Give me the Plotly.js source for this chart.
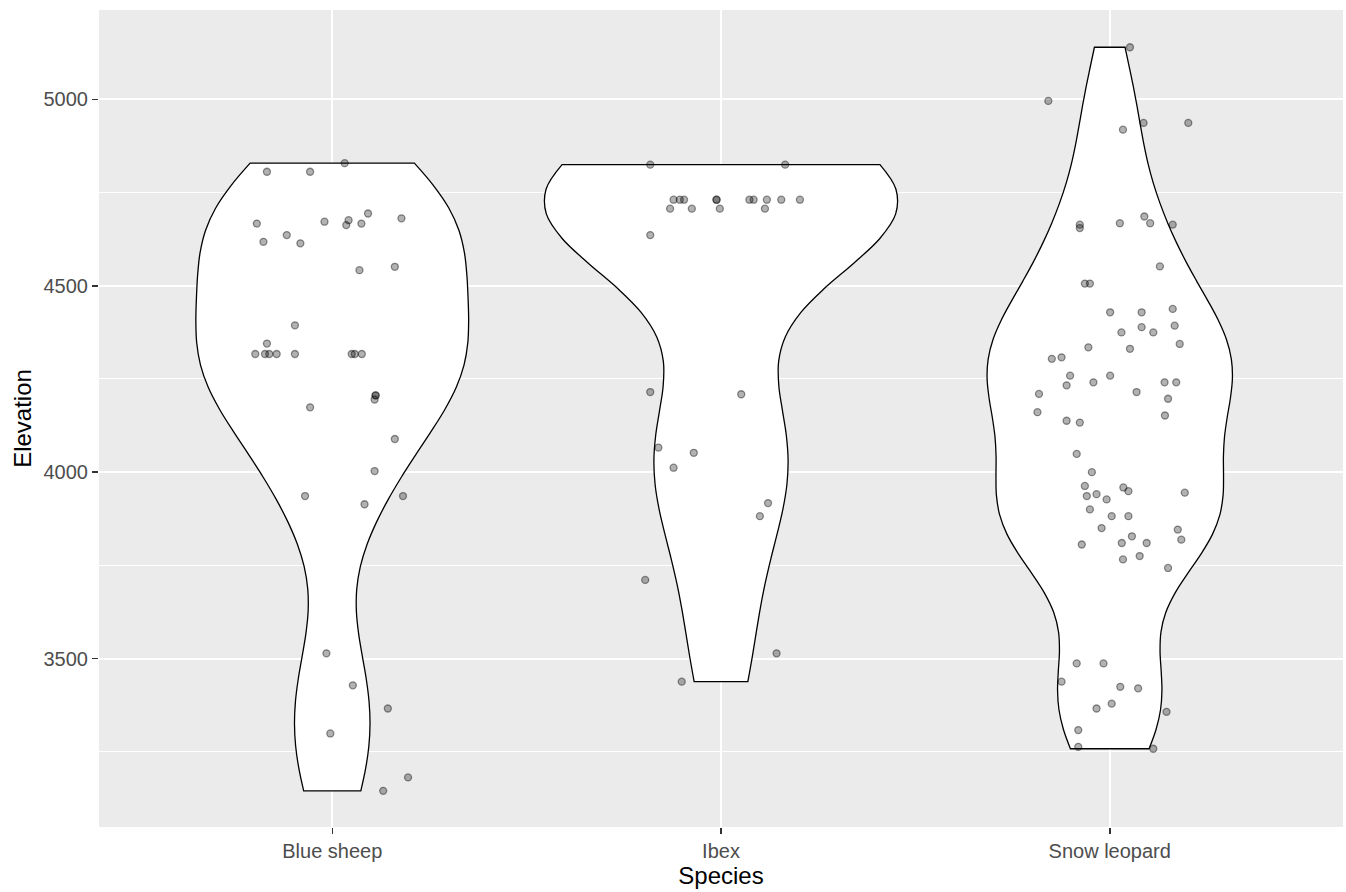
<!DOCTYPE html>
<html><head><meta charset="utf-8">
<script src="https://cdn.plot.ly/plotly-3.0.1.min.js"></script>
<style>html,body{margin:0;padding:0;background:#fff}#chart{width:1346px;height:892px}</style>
</head><body><div id="chart"></div>
<script>
const categories = ["Blue sheep", "Ibex", "Snow leopard"];

const blueSheepElevation = [4806, 4806, 4829, 4667, 4618, 4636, 4614, 4672, 4676, 4663, 4667, 4694, 4681, 4542, 4551, 4394, 4345, 4317, 4317, 4317, 4317, 4317, 4317, 4317, 4317, 4206, 4206, 4195, 4174, 4089, 4003, 3936, 3914, 3936, 3514, 3428, 3366, 3299, 3181, 3145];
const blueSheepJitter = [-0.168, -0.057, 0.032, -0.194, -0.177, -0.117, -0.082, -0.020, 0.042, 0.036, 0.075, 0.092, 0.178, 0.070, 0.161, -0.096, -0.168, -0.198, -0.173, -0.162, -0.143, -0.096, 0.050, 0.058, 0.076, 0.111, 0.112, 0.109, -0.057, 0.161, 0.109, -0.070, 0.083, 0.182, -0.015, 0.053, 0.143, -0.005, 0.195, 0.131];

const ibexElevation = [4825, 4825, 4731, 4731, 4731, 4707, 4707, 4731, 4731, 4707, 4731, 4731, 4731, 4707, 4731, 4731, 4636, 4215, 4209, 4066, 4052, 4012, 3917, 3882, 3711, 3514, 3438];
const ibexJitter = [-0.182, 0.165, -0.122, -0.106, -0.095, -0.131, -0.075, -0.012, -0.011, -0.003, 0.073, 0.084, 0.118, 0.113, 0.155, 0.203, -0.182, -0.182, 0.052, -0.161, -0.070, -0.122, 0.121, 0.100, -0.195, 0.143, -0.101];

const snowLeopardElevation = [5140, 4996, 4919, 4937, 4937, 4664, 4655, 4668, 4686, 4668, 4664, 4552, 4506, 4506, 4429, 4429, 4438, 4375, 4389, 4375, 4393, 4335, 4331, 4344, 4304, 4308, 4259, 4259, 4233, 4241, 4241, 4241, 4210, 4215, 4197, 4161, 4152, 4138, 4133, 4049, 4000, 3963, 3959, 3949, 3936, 3941, 3927, 3945, 3900, 3882, 3882, 3850, 3806, 3810, 3828, 3810, 3846, 3819, 3766, 3775, 3743, 3487, 3487, 3438, 3424, 3420, 3366, 3379, 3357, 3308, 3263, 3258];
const snowLeopardJitter = [0.052, -0.158, 0.034, 0.087, 0.202, -0.077, -0.077, 0.026, 0.089, 0.104, 0.162, 0.129, -0.064, -0.051, 0.001, 0.082, 0.162, 0.030, 0.082, 0.112, 0.167, -0.055, 0.052, 0.180, -0.149, -0.124, -0.102, 0.001, -0.111, -0.042, 0.141, 0.171, -0.182, 0.069, 0.150, -0.186, 0.142, -0.111, -0.077, -0.085, -0.046, -0.064, 0.035, 0.048, -0.059, -0.034, -0.008, 0.193, -0.051, 0.005, 0.048, -0.021, -0.072, 0.031, 0.057, 0.095, 0.175, 0.184, 0.034, 0.077, 0.150, -0.085, -0.016, -0.124, 0.027, 0.073, -0.034, 0.005, 0.146, -0.081, -0.081, 0.112];

const yTickValues = [3500, 4000, 4500, 5000];

const groups = [
  {elev: blueSheepElevation, jit: blueSheepJitter},
  {elev: ibexElevation, jit: ibexJitter},
  {elev: snowLeopardElevation, jit: snowLeopardJitter}
];

// R's bw.nrd0 (ggplot2 default bandwidth)
function quantile(sorted, p) {
  const h = (sorted.length - 1) * p;
  const lo = Math.floor(h);
  const hi = Math.min(lo + 1, sorted.length - 1);
  return sorted[lo] + (h - lo) * (sorted[hi] - sorted[lo]);
}
function nrd0(v) {
  const n = v.length;
  const m = v.reduce((a, b) => a + b, 0) / n;
  const sd = Math.sqrt(v.reduce((a, b) => a + (b - m) * (b - m), 0) / (n - 1));
  const s = v.slice().sort((a, b) => a - b);
  const iqr = quantile(s, 0.75) - quantile(s, 0.25);
  let lo = Math.min(sd, iqr / 1.34);
  if (!(lo > 0)) lo = sd || Math.abs(s[0]) || 1;
  return 0.9 * lo * Math.pow(n, -0.2);
}

const traces = [];
groups.forEach((g, i) => {
  traces.push({
    type: 'violin',
    x0: i,
    y: g.elev,
    name: categories[i],
    orientation: 'v',
    spanmode: 'hard',
    bandwidth: nrd0(g.elev),
    scalegroup: 'all',
    scalemode: 'width',
    points: false,
    box: {visible: false},
    meanline: {visible: false},
    fillcolor: '#FFFFFF',
    line: {color: '#000000', width: 1.3},
    hoverinfo: 'skip',
    showlegend: false
  });
});
groups.forEach((g, i) => {
  traces.push({
    type: 'scatter',
    mode: 'markers',
    x: g.jit.map(d => d + i),
    y: g.elev,
    marker: {size: 7, color: 'rgba(0,0,0,0.3)', line: {color: 'rgba(0,0,0,0.42)', width: 1.3}},
    hoverinfo: 'y',
    showlegend: false
  });
});

const font = 'Liberation Sans, Arial, sans-serif';
const layout = {
  width: 1346, height: 892,
  margin: {l: 99, r: 3, t: 10, b: 65},
  paper_bgcolor: '#FFFFFF',
  plot_bgcolor: '#EBEBEB',
  violinmode: 'overlay',
  violingap: 0.1,
  violingroupgap: 0,
  showlegend: false,
  font: {family: font, color: '#4D4D4D', size: 20},
  xaxis: {
    type: 'linear',
    range: [-0.6, 2.6],
    tickvals: [0, 1, 2],
    ticktext: categories,
    showgrid: true, gridcolor: '#FFFFFF', gridwidth: 2,
    zeroline: false, showline: false,
    ticks: 'outside', ticklen: 6, tickwidth: 1.5, tickcolor: '#333333',
    tickfont: {family: font, size: 20, color: '#4D4D4D'},
    title: {text: 'Species', font: {family: font, size: 24, color: '#000000'}, standoff: 6},
    automargin: false,
    fixedrange: true
  },
  yaxis: {
    type: 'linear',
    range: [3048, 5240],
    tickvals: yTickValues,
    ticktext: yTickValues.map(String),
    showgrid: true, gridcolor: '#FFFFFF', gridwidth: 2,
    minor: {dtick: 250, tick0: 0, showgrid: true, gridcolor: '#FFFFFF', gridwidth: 1, ticks: ''},
    zeroline: false, showline: false,
    ticks: 'outside', ticklen: 6, tickwidth: 1.5, tickcolor: '#333333',
    tickfont: {family: font, size: 20, color: '#4D4D4D'},
    title: {text: 'Elevation', font: {family: font, size: 24, color: '#000000'}, standoff: 5},
    automargin: false,
    fixedrange: true
  }
};

Plotly.newPlot('chart', traces, layout, {displayModeBar: false, staticPlot: true});
</script></body></html>
